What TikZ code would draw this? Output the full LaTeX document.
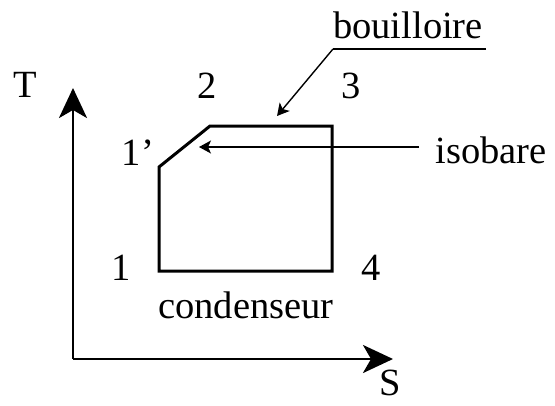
\documentclass[tikz,border=0pt]{standalone}
\usepackage{fontspec}
\setmainfont{Liberation Serif}
\usetikzlibrary{arrows.meta}
\tikzset{
  lbl/.style={anchor=base, inner sep=0pt, font=\fontsize{38.5}{40}\selectfont},
  axis/.style={line width=2.8pt, -{Stealth[length=30pt,width=28pt,inset=8pt]}},
  cycleline/.style={line width=3pt, line join=miter},
  leader/.style={line width=1.4pt, -{Stealth[length=12pt,width=13pt,inset=3pt]}},
  plain/.style={line width=1.4pt}
}
\begin{document}
\begin{tikzpicture}[x=1pt,y=-1pt]
\useasboundingbox (0,0) rectangle (555,405);
% axes
\coordinate (O) at (73,359);
\coordinate (Ttip) at (73,88);
\coordinate (Stip) at (393,359);
\draw[axis] (O) -- (Ttip);
\draw[axis] (O) -- (Stip);
\node[lbl] (T) at (25.5,97) {T};
\node[lbl] (S) at (390,395) {S};
% cycle
\coordinate (c1) at (159,271);
\coordinate (c1p) at (159,167);
\coordinate (c2) at (210,126);
\coordinate (c3) at (332,126);
\coordinate (c4) at (332,271);
\draw[cycleline] (c1) -- (c1p) -- (c2) -- (c3) -- (c4) -- cycle;
\node[lbl] (n1) at (121,280) {1};
\node[lbl] (n1p) at (138,165) {1’};
\node[lbl] (n2) at (207,98) {2};
\node[lbl] (n3) at (351,98) {3};
\node[lbl] (n4) at (371,280) {4};
\node[lbl] (cond) at (246,318) {condenseur};
% annotations
\node[lbl] (iso) at (491,163) {isobare};
\coordinate (isoStart) at (419,147);
\coordinate (isoTip) at (199,147);
\draw[leader] (isoStart) -- (isoTip);
\node[lbl] (bou) at (408,38) {bouilloire};
\coordinate (bouL) at (333,49);
\coordinate (bouR) at (486,49);
\coordinate (bouTip) at (277,116);
\draw[plain] (bouR) -- (bouL);
\draw[leader] (bouL) -- (bouTip);
\end{tikzpicture}
\end{document}
